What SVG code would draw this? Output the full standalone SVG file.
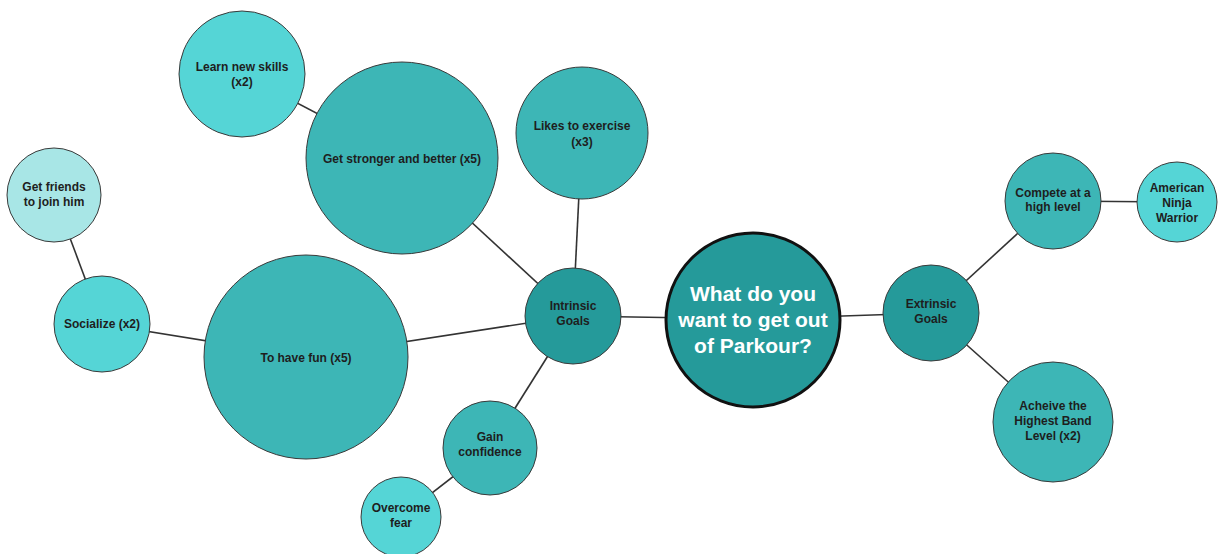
<svg xmlns="http://www.w3.org/2000/svg" width="1221" height="554" viewBox="0 0 1221 554">
  <style>
    .bubble { stroke: #3a3a3a; stroke-width: 1; }
    .dark { fill: #259a9a; }
    .mid { fill: #3db6b6; }
    .light { fill: #55d5d6; }
    .pale { fill: #a8e6e6; }
    .label { font-family: "Liberation Sans", Arial, sans-serif; font-size: 12px; font-weight: bold; fill: #1e1e1e; text-anchor: middle; }
    .title { font-family: "Liberation Sans", Arial, sans-serif; font-size: 21px; font-weight: bold; fill: #ffffff; text-anchor: middle; }
    .link { stroke: #333333; stroke-width: 1.6; fill: none; }
  </style>
  <rect width="1221" height="554" fill="#ffffff"/>

  <!-- connectors (centre to centre, drawn beneath the bubbles) -->
  <g id="connectors">
    <line class="link" x1="242" y1="74" x2="402" y2="158"/>
    <line class="link" x1="402" y1="158" x2="573" y2="316"/>
    <line class="link" x1="582" y1="133" x2="573" y2="316"/>
    <line class="link" x1="54" y1="195" x2="102" y2="324"/>
    <line class="link" x1="102" y1="324" x2="306" y2="357"/>
    <line class="link" x1="306" y1="357" x2="573" y2="316"/>
    <line class="link" x1="573" y1="316" x2="490" y2="448"/>
    <line class="link" x1="490" y1="448" x2="401" y2="517"/>
    <line class="link" x1="573" y1="316" x2="753" y2="319"/>
    <line class="link" x1="753" y1="319" x2="931" y2="313"/>
    <line class="link" x1="931" y1="313" x2="1053" y2="201"/>
    <line class="link" x1="1053" y1="201" x2="1177" y2="202"/>
    <line class="link" x1="931" y1="313" x2="1053" y2="422"/>
  </g>

  <g id="learn-new-skills">
    <circle class="bubble light" cx="242" cy="74" r="63"/>
    <text class="label" x="242" y="71">Learn new skills</text>
    <text class="label" x="242" y="86">(x2)</text>
  </g>

  <g id="get-stronger">
    <circle class="bubble mid" cx="402" cy="158" r="96"/>
    <text class="label" x="402" y="163">Get stronger and better (x5)</text>
  </g>

  <g id="likes-to-exercise">
    <circle class="bubble mid" cx="582" cy="133" r="66"/>
    <text class="label" x="582" y="130">Likes to exercise</text>
    <text class="label" x="582" y="146">(x3)</text>
  </g>

  <g id="get-friends">
    <circle class="bubble pale" cx="54" cy="195" r="47"/>
    <text class="label" x="54" y="191">Get friends</text>
    <text class="label" x="54" y="206">to join him</text>
  </g>

  <g id="socialize">
    <circle class="bubble light" cx="102" cy="324" r="48"/>
    <text class="label" x="102" y="328">Socialize (x2)</text>
  </g>

  <g id="to-have-fun">
    <circle class="bubble mid" cx="306" cy="357" r="102"/>
    <text class="label" x="306" y="362">To have fun (x5)</text>
  </g>

  <g id="intrinsic-goals">
    <circle class="bubble dark" cx="573" cy="316" r="48"/>
    <text class="label" x="573" y="310">Intrinsic</text>
    <text class="label" x="573" y="325">Goals</text>
  </g>

  <g id="gain-confidence">
    <circle class="bubble mid" cx="490" cy="448" r="47"/>
    <text class="label" x="490" y="441">Gain</text>
    <text class="label" x="490" y="456">confidence</text>
  </g>

  <g id="overcome-fear">
    <circle class="bubble light" cx="401" cy="517" r="40"/>
    <text class="label" x="401" y="512">Overcome</text>
    <text class="label" x="401" y="527">fear</text>
  </g>

  <g id="central-question">
    <circle cx="753" cy="320" r="87" fill="#259a9a" stroke="#111111" stroke-width="3"/>
    <text class="title" x="753" y="301">What do you</text>
    <text class="title" x="753" y="327">want to get out</text>
    <text class="title" x="753" y="353">of Parkour?</text>
  </g>

  <g id="extrinsic-goals">
    <circle class="bubble dark" cx="931" cy="313" r="48"/>
    <text class="label" x="931" y="308">Extrinsic</text>
    <text class="label" x="931" y="323">Goals</text>
  </g>

  <g id="compete-high-level">
    <circle class="bubble mid" cx="1053" cy="201" r="48"/>
    <text class="label" x="1053" y="197">Compete at a</text>
    <text class="label" x="1053" y="211">high level</text>
  </g>

  <g id="american-ninja-warrior">
    <circle class="bubble light" cx="1177" cy="202" r="40"/>
    <text class="label" x="1177" y="192">American</text>
    <text class="label" x="1177" y="207">Ninja</text>
    <text class="label" x="1177" y="222">Warrior</text>
  </g>

  <g id="highest-band-level">
    <circle class="bubble mid" cx="1053" cy="422" r="60"/>
    <text class="label" x="1053" y="410">Acheive the</text>
    <text class="label" x="1053" y="425">Highest Band</text>
    <text class="label" x="1053" y="440">Level (x2)</text>
  </g>
</svg>
